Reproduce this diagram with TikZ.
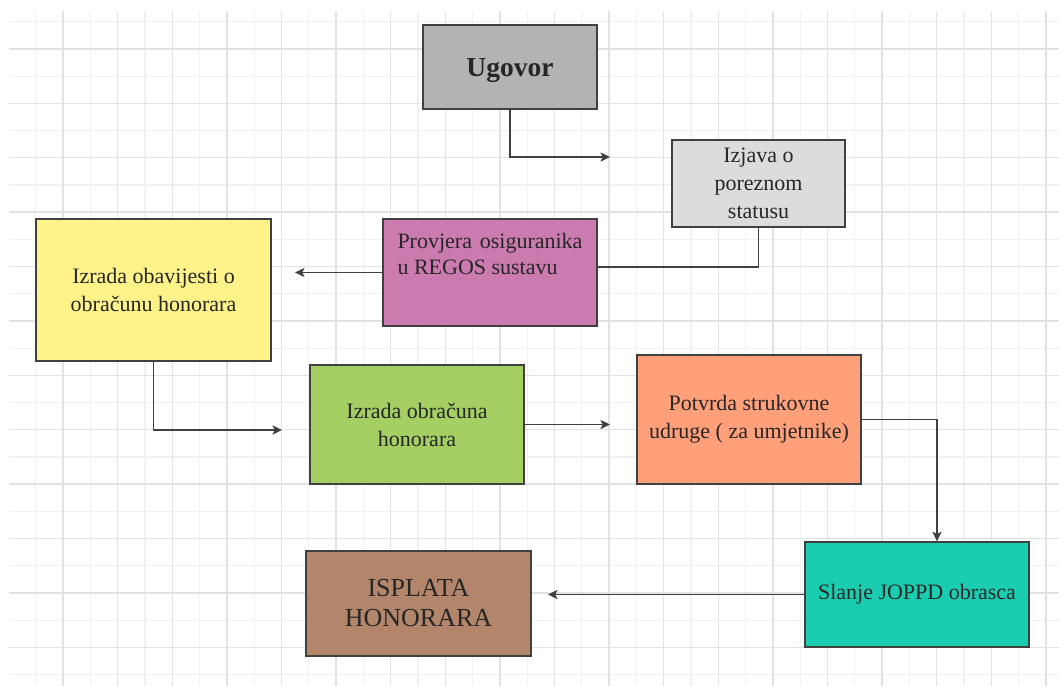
\documentclass[tikz,border=0pt]{standalone}
\usepackage{fontspec}
\setmainfont{Liberation Serif}
\usepackage{xcolor}
\usetikzlibrary{shapes,arrows.meta,positioning,calc}

\definecolor{boxline}{HTML}{404040}
\definecolor{textdark}{HTML}{262626}
\definecolor{gridminor}{HTML}{F1F1F1}
\definecolor{gridmajor}{HTML}{E2E2E2}
\definecolor{ugovorfill}{HTML}{B3B3B3}
\definecolor{izjavafill}{HTML}{DCDCDC}
\definecolor{provjerafill}{HTML}{CC7BB0}
\definecolor{obavijestfill}{HTML}{FEF388}
\definecolor{obracunfill}{HTML}{A4CF62}
\definecolor{potvrdafill}{HTML}{FFA07A}
\definecolor{slanjefill}{HTML}{1ACCB0}
\definecolor{isplatafill}{HTML}{B3866B}

\begin{document}
\begin{tikzpicture}[
    x=0.5pt, y=-0.5pt,
    box/.style={rectangle, draw=boxline, line width=0.7pt, text=textdark, text centered, align=center, inner sep=0pt, font=\fontsize{11}{14}\selectfont},
    bigbox/.style={box, font=\fontsize{13}{15}\selectfont},
    arrow/.style={->, >={Stealth[length=4.8pt,width=4.6pt,inset=1.2pt]}, draw=boxline, line width=0.7pt},
    link/.style={draw=boxline, line width=0.7pt},
    minorline/.style={draw=gridminor, line width=0.6pt},
    majorline/.style={draw=gridmajor, line width=0.7pt}
]
    \useasboundingbox (0,0) rectangle (1059,686);

    % Background grid
    \foreach \i in {0,...,37}
        \draw[minorline] (35.7+27.3*\i,11) -- (35.7+27.3*\i,686);
    \foreach \i in {0,...,24}
        \draw[minorline] (9,21.7+27.2*\i) -- (1059,21.7+27.2*\i);
    \foreach \i in {0,...,18}
        \draw[majorline] (63.0+54.6*\i,11) -- (63.0+54.6*\i,686);
    \foreach \i in {0,...,11}
        \draw[majorline] (9,48.9+54.4*\i) -- (1059,48.9+54.4*\i);

    % Contract and tax status
    \node[box, fill=ugovorfill, minimum width=87pt, minimum height=42pt, text depth=0pt, font=\fontsize{13.75}{16}\selectfont\bfseries] (ugovor) at (510,67) {Ugovor};
    \node[box, fill=izjavafill, minimum width=86.5pt, minimum height=43.5pt] (izjava) at (758.5,183.5) {Izjava o\\poreznom\\statusu};

    % REGOS check
    \node[box, fill=provjerafill, minimum width=107pt, minimum height=53.5pt, font=\fontsize{11}{13}\selectfont] (provjera) at (490,272.5)
        {\parbox[c][53.5pt][t]{92.5pt}{\vspace*{7pt}Provjera\hfill osiguranika\\u REGOS sustavu}};

    % Calculation
    \node[box, fill=obavijestfill, minimum width=117.5pt, minimum height=71pt] (obavijest) at (153.5,290) {Izrada obavijesti o\\obračunu honorara};
    \node[box, fill=obracunfill, minimum width=107pt, minimum height=59.5pt] (obracun) at (417,424.5) {Izrada obračuna\\honorara};
    \node[box, fill=potvrdafill, minimum width=112pt, minimum height=64.5pt] (potvrda) at (749,419.5) {Potvrda strukovne\\udruge ( za umjetnike)};

    % Reporting and payment
    \node[box, fill=slanjefill, minimum width=112pt, minimum height=52.5pt] (slanje) at (917,594.5) {Slanje JOPPD obrasca};
    \node[bigbox, fill=isplatafill, minimum width=112.5pt, minimum height=52.5pt] (isplata) at (418.5,603.5) {ISPLATA\\HONORARA};

    % Free arrow ends
    \coordinate (ugovorEnd) at (610,157);
    \coordinate (provjeraEnd) at (295,272.5);
    \coordinate (obavijestEnd) at (282,430);
    \coordinate (obracunEnd) at (610,424.5);
    \coordinate (slanjeEnd) at (548,594.5);

    % Arrows
    \draw[arrow] (ugovor.south) |- (ugovorEnd);
    \draw[link] (izjava.south) |- ([yshift=2.75pt]provjera.east);
    \draw[arrow] (provjera.west) -- (provjeraEnd);
    \draw[arrow] (obavijest.south) |- (obavijestEnd);
    \draw[arrow] (obracun.east) -- (obracunEnd);
    \draw[arrow] (potvrda.east) -| ([xshift=10pt]slanje.north);
    \draw[arrow] (slanje.west) -- (slanjeEnd);
\end{tikzpicture}
\end{document}
